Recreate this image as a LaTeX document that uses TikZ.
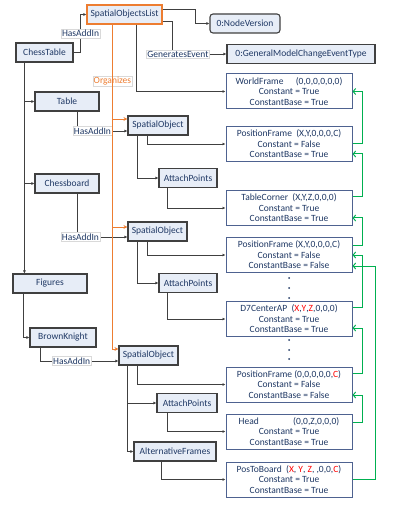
\documentclass[tikz,border=0pt]{standalone}
\usepackage{fontspec}
\setmainfont{Carlito}
\usetikzlibrary{arrows.meta}
\definecolor{boxfill}{HTML}{E7EDF7}
\definecolor{boxline}{HTML}{404040}
\definecolor{frameline}{HTML}{4E6290}
\definecolor{navy}{HTML}{1F3864}
\definecolor{orglink}{HTML}{ED7D31}
\definecolor{chainlink}{HTML}{00B050}
\definecolor{tupred}{HTML}{FF0000}
\newcommand{\rd}[1]{\textcolor{tupred}{#1}}

\begin{document}
\begin{tikzpicture}[x=1pt, y=-1pt,
    every node/.style={font=\fontsize{9.5}{10.5}\selectfont, text=navy},
    obj/.style={draw=boxline, line width=1.1pt, fill=boxfill, minimum height=19pt, inner sep=0pt},
    framebox/.style={draw=frameline, line width=1pt, fill=white, minimum width=126pt, minimum height=35pt, align=center, inner sep=0pt},
    rel/.style={fill=white, draw=black!15, line width=0.4pt, inner sep=1pt},
    link/.style={draw=boxline, line width=0.9pt, -{Latex[length=3pt,width=3pt]}},
    organize/.style={draw=orglink, line width=0.9pt, -{Stealth[length=4pt,width=4pt]}},
    chainarrow/.style={draw=chainlink, line width=1pt, -{Straight Barb[length=2.5pt,width=6pt]}}]
    \useasboundingbox (0,0) rectangle (401,510);
    % Nodes
    \node[obj, draw=orglink, minimum width=75pt] (SpatialObjectsList) at (124.5,14.5) {SpatialObjectsList};
    \node[obj, rounded corners=3pt, minimum width=70pt] (NodeVersion) at (245,23.5) {0:NodeVersion};
    \node[obj, minimum width=148pt] (EventType) at (301,54) {0:GeneralModelChangeEventType};
    \node[obj, minimum width=57pt] (ChessTable) at (44.5,52.5) {ChessTable};
    \node[obj, minimum width=64pt] (Table) at (67,101.5) {Table};
    \node[obj, minimum width=64pt] (Chessboard) at (67,183.5) {Chessboard};
    \node[obj, minimum width=74pt] (Figures) at (50,283.5) {Figures};
    \node[obj, minimum width=66pt] (BrownKnight) at (63,337.5) {BrownKnight};
    \node[obj, minimum width=60pt] (TableObject) at (158,125.5) {SpatialObject};
    \node[obj, minimum width=58pt] (TablePoints) at (188,178) {AttachPoints};
    \node[obj, minimum width=59pt] (BoardObject) at (157.5,231.5) {SpatialObject};
    \node[obj, minimum width=58pt] (BoardPoints) at (188,283) {AttachPoints};
    \node[obj, minimum width=59pt] (KnightObject) at (148.5,355.5) {SpatialObject};
    \node[obj, minimum width=60pt] (KnightPoints) at (187,403) {AttachPoints};
    \node[obj, minimum width=82pt] (KnightFrames) at (175,451.5) {AlternativeFrames};
    % Frames
    \node[framebox] (WorldFrame) at (289,91.5) {WorldFrame\hspace{1.3em}(0,0,0,0,0,0)\\Constant = True\\ConstantBase = True};
    \node[framebox] (TableFrame) at (289,144) {PositionFrame\ \ (X,Y,0,0,0,C)\\Constant = False\\ConstantBase = True};
    \node[framebox] (TableCorner) at (289,208) {TableCorner\ \ (X,Y,Z,0,0,0)\\Constant = True\\ConstantBase = True};
    \node[framebox] (BoardFrame) at (289,255) {PositionFrame (X,Y,0,0,0,C)\\Constant = False\\ConstantBase = False};
    \node[framebox] (D7CenterAP) at (289,319) {D7CenterAP\ \ (\rd{X},\rd{Y},\rd{Z},0,0,0)\\Constant = True\\ConstantBase = True};
    \node[framebox] (KnightFrame) at (289,384.5) {PositionFrame (0,0,0,0,0,\rd{C})\\Constant = False\\ConstantBase = False};
    \node[framebox] (Head) at (289,431.5) {Head\hspace{3.6em}(0,0,Z,0,0,0)\\Constant = True\\ConstantBase = True};
    \node[framebox] (PosToBoard) at (289,479.5) {PosToBoard\ \ (\rd{X}, \rd{Y}, \rd{Z}, ,0,0,\rd{C})\\Constant = True\\ConstantBase = True};
    \foreach \y in {278,288,298,340,350,359}
        \fill[navy] (289,\y) circle (1pt);
    % Edges
    \draw[link] (ChessTable.east) -- ++(7,0) |- (SpatialObjectsList.west) node[rel, pos=0.25] {HasAddIn};
    \draw[link] ([yshift=5.5pt]SpatialObjectsList.east) -- ++(33,0) |- (NodeVersion);
    \draw[link] ([yshift=-6.5pt]SpatialObjectsList.east) -- ++(10,0) |- (EventType) node[rel, pos=0.55] {GeneratesEvent};
    \draw[link] ([xshift=50pt]SpatialObjectsList.south west) |- (WorldFrame);
    \draw[link] ([xshift=9pt]ChessTable.south west) |- (Table);
    \draw[link] ([xshift=9pt]ChessTable.south west) |- (Chessboard);
    \draw[link] ([xshift=9pt]ChessTable.south west) -- ([xshift=12pt]Figures.north west);
    \draw[link] ([xshift=43pt]Table.south west) |- ([yshift=-5.5pt]TableObject.west) node[rel, pos=0.65] {HasAddIn};
    \draw[link] ([xshift=43pt]Chessboard.south west) |- ([yshift=-5.5pt]BoardObject.west) node[rel, pos=0.53] {HasAddIn};
    \draw[link] ([xshift=11pt]Figures.south west) |- (BrownKnight);
    \draw[link] ([xshift=11pt]BrownKnight.south west) |- ([yshift=-5.5pt]KnightObject.west) node[rel, pos=0.7] {HasAddIn};
    \draw[link] ([xshift=20pt]TableObject.south west) |- (TableFrame);
    \draw[link] ([xshift=10pt]TableObject.south west) |- (TablePoints);
    \draw[link] ([xshift=9pt]TablePoints.south west) |- (TableCorner);
    \draw[link] ([xshift=20pt]BoardObject.south west) |- (BoardFrame);
    \draw[link] ([xshift=10pt]BoardObject.south west) |- (BoardPoints);
    \draw[link] ([xshift=9pt]BoardPoints.south west) |- (D7CenterAP);
    \draw[link] ([xshift=19pt]KnightObject.south west) |- (KnightFrame);
    \draw[link] ([xshift=9pt]KnightObject.south west) |- (KnightPoints);
    \draw[link] ([xshift=9pt]KnightObject.south west) |- (KnightFrames);
    \draw[link] ([xshift=11pt]KnightPoints.south west) |- (Head);
    \draw[link] ([xshift=28pt]KnightFrames.south west) |- (PosToBoard);
    % Organizes
    \draw[organize] ([xshift=26pt]SpatialObjectsList.south west) |- ([yshift=6.5pt]TableObject.west) node[rel, fill=none, text=orglink, pos=0.3] {Organizes};
    \draw[organize] ([xshift=26pt]SpatialObjectsList.south west) |- ([yshift=4.5pt]BoardObject.west);
    \draw[organize] ([xshift=26pt]SpatialObjectsList.south west) |- ([yshift=6.5pt]KnightObject.west);
    % Frame chain
    \draw[chainarrow] (TableFrame.east) -- ++(10,0) |- (WorldFrame.east);
    \draw[chainarrow] ([yshift=11pt]TableCorner.east) -- ++(10,0) |- ([yshift=-10pt]TableFrame.east);
    \draw[chainarrow] ([yshift=10pt]BoardFrame.east) -- ++(10,0) |- ([yshift=-10pt]TableCorner.east);
    \draw[chainarrow] ([yshift=12pt]D7CenterAP.east) -- ++(10,0) |- (BoardFrame.east);
    \draw[chainarrow] (PosToBoard.east) -- ++(23,0) |- ([yshift=-11pt]BoardFrame.east);
    \draw[chainarrow] ([yshift=11.5pt]KnightFrame.east) -- ++(10,0) |- ([yshift=-9pt]D7CenterAP.east);
    \draw[chainarrow] ([yshift=9.5pt]Head.east) -- ++(10,0) |- ([yshift=-10.5pt]KnightFrame.east);
\end{tikzpicture}
\end{document}
